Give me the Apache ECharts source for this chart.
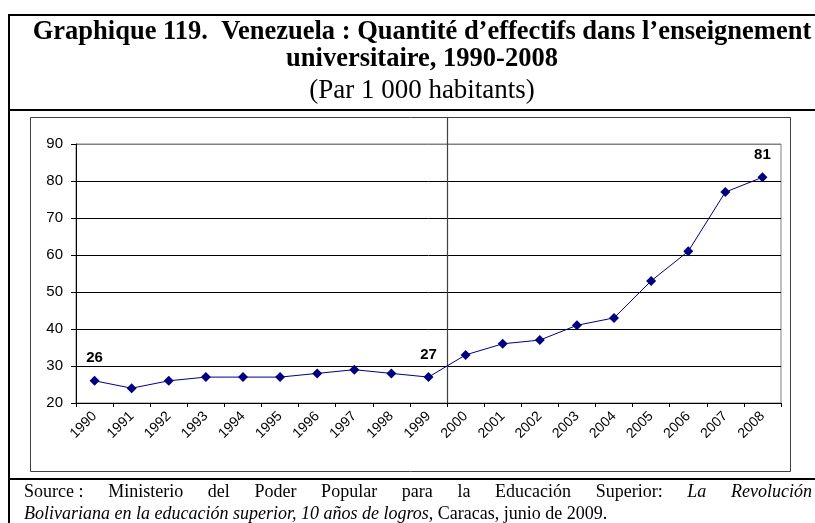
<!DOCTYPE html>
<html>
<head>
<meta charset="utf-8">
<script src="https://cdn.jsdelivr.net/npm/echarts@6/dist/echarts.min.js"></script>
<style>
html, body { margin: 0; padding: 0; background: #fff; }
#chart { width: 815px; height: 523px; }
</style>
</head>
<body>
<div id="chart"></div>
<script>
// données
var years = ['1990', '1991', '1992', '1993', '1994', '1995', '1996', '1997', '1998', '1999',
	'2000', '2001', '2002', '2003', '2004', '2005', '2006', '2007', '2008'];
var values = [26, 24, 26, 27, 27, 27, 28, 29, 28, 27, 33, 36, 37, 41, 43, 53, 61, 77, 81];
var labelledYears = ['1990', '1999', '2008'];
var dividerAfter = '1999'; // trait vertical entre 1999 et 2000
var yMin = 20, yMax = 90, yStep = 10;

var titleText = 'Graphique 119.  Venezuela : Quantité d’effectifs dans l’enseignement\nuniversitaire, 1990-2008';
var subtitleText = '(Par 1 000 habitants)';
// ligne 1 de la source, justifiée mot par mot ; true = italique
var sourceWords = [['Source :', false], ['Ministerio', false], ['del', false], ['Poder', false], ['Popular', false],
	['para', false], ['la', false], ['Educación', false], ['Superior:', false], ['La', true], ['Revolución', true]];
var sourceLine2 = '{i|Bolivariana en la educación superior, 10 años de logros}{n|, Caracas, junio de 2009.}';

var serif = '"Liberation Serif", "Times New Roman", serif';
var sans = '"Liberation Sans", Arial, sans-serif';

var chart = echarts.init(document.getElementById('chart'));

chart.setOption({
	animation: false,
	backgroundColor: '#fff',
	title: [{
		text: titleText,
		left: 417,
		top: 14,
		textAlign: 'center',
		textStyle: { fontFamily: serif, fontSize: 26.5, fontWeight: 'bold', color: '#000', lineHeight: 27 }
	}, {
		text: subtitleText,
		left: 417,
		top: 72,
		textAlign: 'center',
		textStyle: { fontFamily: serif, fontSize: 27, fontWeight: 'normal', color: '#000', lineHeight: 27 }
	}],
	grid: {
		left: 76,
		right: 34,
		top: 144,
		bottom: 120,
		show: true,
		borderColor: '#808080',
		borderWidth: 1
	},
	xAxis: {
		type: 'category',
		data: years,
		boundaryGap: true,
		axisLine: { lineStyle: { color: '#000', width: 1 } },
		axisTick: { show: true, length: 4, lineStyle: { color: '#000' } },
		axisLabel: { interval: 0, rotate: 45, margin: 11, fontFamily: sans, fontSize: 14, color: '#000' },
		splitLine: { show: false }
	},
	yAxis: {
		type: 'value',
		min: yMin,
		max: yMax,
		interval: yStep,
		axisLine: { show: true, lineStyle: { color: '#000', width: 1 } },
		axisTick: { show: true, length: 5, lineStyle: { color: '#000' } },
		axisLabel: { margin: 13, fontFamily: sans, fontSize: 15, color: '#000' },
		splitLine: {
			show: true,
			lineStyle: { color: ['#000', '#000', '#000', '#000', '#000', '#000', '#000', '#808080'], width: 1 }
		}
	},
	series: [{
		type: 'line',
		data: values,
		symbol: 'diamond',
		symbolSize: 10,
		itemStyle: { color: '#000080' },
		lineStyle: { color: '#000080', width: 1 },
		label: {
			show: true,
			position: 'top',
			distance: 10,
			fontFamily: sans,
			fontSize: 15,
			fontWeight: 'bold',
			color: '#000',
			formatter: function(p) {
				return labelledYears.indexOf(p.name) >= 0 ? String(p.value) : '';
			}
		}
	}]
});

// cadres, trait vertical et source
var graphics = [];
function line(x1, y1, x2, y2, color, w) {
	graphics.push({ type: 'line', silent: true, shape: { x1: x1, y1: y1, x2: x2, y2: y2 },
		style: { stroke: color, lineWidth: w } });
}
// cadre extérieur
graphics.push({ type: 'rect', silent: true, shape: { x: 9, y: 15, width: 830, height: 540 },
	style: { fill: null, stroke: '#000', lineWidth: 2 } });
line(9, 110, 815, 110, '#000', 2);
line(9, 479, 815, 479, '#000', 2);
// cadre du graphique
graphics.push({ type: 'rect', silent: true, shape: { x: 30.5, y: 117.5, width: 760, height: 354 },
	style: { fill: null, stroke: '#404040', lineWidth: 1 } });

var xa = chart.convertToPixel({ xAxisIndex: 0 }, dividerAfter);
var xb = chart.convertToPixel({ xAxisIndex: 0 }, years[years.indexOf(dividerAfter) + 1]);
var yBottom = chart.convertToPixel({ yAxisIndex: 0 }, yMin);
var xd = Math.round((xa + xb) / 2) + 0.5;
line(xd, 118, xd, yBottom, '#404040', 1.2);

// justification de la première ligne
var ctx = document.createElement('canvas').getContext('2d');
var srcSize = 18, srcLeft = 24, srcRight = 812;
var total = 0, widths = [];
sourceWords.forEach(function(w) {
	ctx.font = (w[1] ? 'italic ' : '') + srcSize + 'px ' + serif;
	var m = ctx.measureText(w[0]).width;
	widths.push(m);
	total += m;
});
var gap = (srcRight - srcLeft - total) / (sourceWords.length - 1);
var cx = srcLeft;
sourceWords.forEach(function(w, i) {
	graphics.push({
		type: 'text', silent: true, x: cx, y: 492,
		style: { text: w[0], fill: '#000', fontFamily: serif, fontSize: srcSize,
			fontStyle: w[1] ? 'italic' : 'normal', verticalAlign: 'middle', align: 'left' }
	});
	cx += widths[i] + gap;
});
graphics.push({
	type: 'text', silent: true, x: srcLeft, y: 514,
	style: {
		text: sourceLine2, fill: '#000', fontFamily: serif, fontSize: srcSize, verticalAlign: 'middle', align: 'left',
		rich: {
			i: { fontFamily: serif, fontSize: srcSize, fontStyle: 'italic', fill: '#000' },
			n: { fontFamily: serif, fontSize: srcSize, fill: '#000' }
		}
	}
});

chart.setOption({ graphic: graphics });
</script>
</body>
</html>
